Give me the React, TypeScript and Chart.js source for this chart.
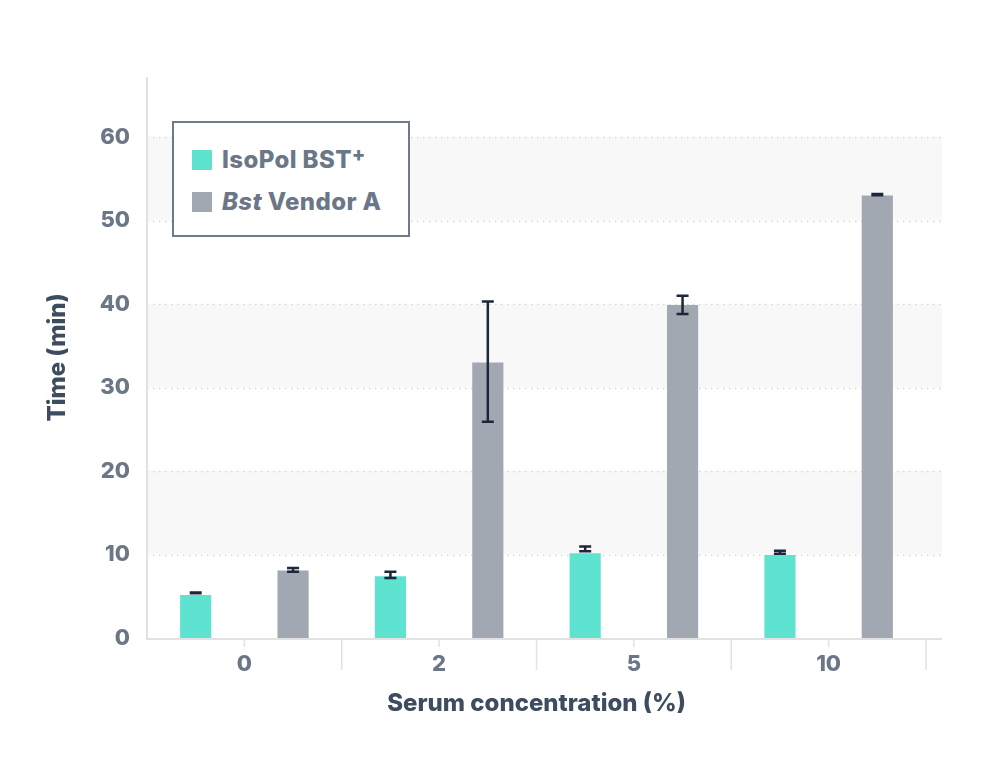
import { useEffect, useRef } from 'react';
import Chart from 'chart.js/auto';

const categories = ['0', '2', '5', '10'];
const isoPolValues = [5.15, 7.4, 10.15, 9.95];
const isoPolErrLow = [5.35, 7.2, 10.4, 10.1];
const isoPolErrHigh = [5.45, 7.95, 10.95, 10.45];
const vendorValues = [8.1, 33.0, 39.9, 53.0];
const vendorErrLow = [7.95, 25.9, 38.8, 53.05];
const vendorErrHigh = [8.4, 40.3, 41.0, 53.2];
const yTicks = [0, 10, 20, 30, 40, 50, 60];

const TEAL = '#5ee3d1';
const GREY = '#a1a8b1';
const TICK_COLOR = '#6b7787';
const TITLE_COLOR = '#3d4c5f';
const FONT = 'Inter, "Noto Sans", sans-serif';

const errorBars = [
  { low: isoPolErrLow, high: isoPolErrHigh },
  { low: vendorErrLow, high: vendorErrHigh },
];

// background bands, dotted grid, axis lines and x tick marks
const backdropPlugin = {
  id: 'backdrop',
  beforeDatasetsDraw(chart: Chart) {
    const { ctx, chartArea } = chart;
    const y = chart.scales.y;
    const x = chart.scales.x;
    const right = chartArea.right + 16;
    ctx.save();
    ctx.fillStyle = '#f8f8f8';
    for (let v = 10; v < 60; v += 20) {
      const top = y.getPixelForValue(v + 10);
      const bot = y.getPixelForValue(v);
      ctx.fillRect(chartArea.left, top, right - chartArea.left, bot - top);
    }
    ctx.strokeStyle = '#d6d6d6';
    ctx.lineWidth = 1.5;
    ctx.setLineDash([1.5, 4.5]);
    yTicks.slice(1).forEach((v) => {
      const py = Math.round(y.getPixelForValue(v)) + 0.5;
      ctx.beginPath();
      ctx.moveTo(chartArea.left, py);
      ctx.lineTo(right, py);
      ctx.stroke();
    });
    ctx.setLineDash([]);
    ctx.strokeStyle = '#e2e2e2';
    ctx.lineWidth = 2;
    ctx.beginPath();
    ctx.moveTo(chartArea.left, chartArea.top);
    ctx.lineTo(chartArea.left, chartArea.bottom + 1);
    ctx.lineTo(right, chartArea.bottom + 1);
    ctx.stroke();
    const step = (chartArea.right - chartArea.left) / categories.length;
    ctx.lineWidth = 1.5;
    categories.forEach((_, i) => {
      const cx = x.getPixelForValue(i);
      ctx.beginPath();
      ctx.moveTo(cx, chartArea.bottom + 1);
      ctx.lineTo(cx, chartArea.bottom + 9);
      ctx.stroke();
      const bx = chartArea.left + step * (i + 1);
      ctx.beginPath();
      ctx.moveTo(bx, chartArea.bottom + 1);
      ctx.lineTo(bx, chartArea.bottom + 32);
      ctx.stroke();
    });
    ctx.restore();
  },
  afterDatasetsDraw(chart: Chart) {
    const { ctx } = chart;
    const y = chart.scales.y;
    ctx.save();
    ctx.strokeStyle = '#1c2739';
    ctx.lineWidth = 2.5;
    errorBars.forEach((eb, d) => {
      const meta = chart.getDatasetMeta(d);
      meta.data.forEach((bar, i) => {
        const bx = bar.x;
        const yl = y.getPixelForValue(eb.low[i]);
        const yh = y.getPixelForValue(eb.high[i]);
        ctx.beginPath();
        ctx.moveTo(bx, yl);
        ctx.lineTo(bx, yh);
        ctx.moveTo(bx - 6, yl);
        ctx.lineTo(bx + 6, yl);
        ctx.moveTo(bx - 6, yh);
        ctx.lineTo(bx + 6, yh);
        ctx.stroke();
      });
    });
    ctx.restore();
  },
};

const legendItem = (color: string): React.CSSProperties => ({
  display: 'inline-block',
  width: 20,
  height: 20,
  background: color,
  marginRight: 10,
  verticalAlign: 'middle',
});

export default function App() {
  const canvasRef = useRef<HTMLCanvasElement | null>(null);
  const chartRef = useRef<Chart | null>(null);

  useEffect(() => {
    document.body.style.margin = '0';
    if (!canvasRef.current) return;
    if (chartRef.current) chartRef.current.destroy();

    chartRef.current = new Chart(canvasRef.current, {
      type: 'bar',
      data: {
        labels: categories,
        datasets: [
          {
            label: 'IsoPol BST+',
            data: isoPolValues,
            backgroundColor: TEAL,
            categoryPercentage: 1.0,
            barPercentage: 0.32,
          },
          {
            label: 'Bst Vendor A',
            data: vendorValues,
            backgroundColor: GREY,
            categoryPercentage: 1.0,
            barPercentage: 0.32,
          },
        ],
      },
      options: {
        responsive: false,
        animation: false,
        layout: { padding: { top: 77, right: 74, left: 0, bottom: 0 } },
        plugins: {
          legend: { display: false },
          tooltip: { enabled: false },
        },
        scales: {
          x: {
            grid: { display: false, drawTicks: false },
            border: { display: false },
            ticks: {
              color: TICK_COLOR,
              font: { family: FONT, size: 22, weight: 800 },
              padding: 13,
            },
            title: {
              display: true,
              text: 'Serum concentration (%)',
              color: TITLE_COLOR,
              font: { family: FONT, size: 24, weight: 800 },
              padding: { top: 0, bottom: 57 },
            },
            afterFit: (scale: any) => {
              scale.height = 137;
            },
          },
          y: {
            min: 0,
            max: 67.2,
            grid: { display: false, drawTicks: false },
            border: { display: false },
            ticks: {
              stepSize: 10,
              includeBounds: false,
              color: TICK_COLOR,
              font: { family: FONT, size: 22, weight: 800 },
              padding: 17,
            },
            afterBuildTicks: (scale: any) => {
              scale.ticks = yTicks.map((v) => ({ value: v }));
            },
            title: {
              display: true,
              text: 'Time (min)',
              color: TITLE_COLOR,
              font: { family: FONT, size: 24, weight: 800 },
              padding: { top: 43, bottom: 0 },
            },
            afterFit: (scale: any) => {
              scale.width = 147;
            },
          },
        },
      },
      plugins: [backdropPlugin],
    });

    return () => {
      if (chartRef.current) {
        chartRef.current.destroy();
        chartRef.current = null;
      }
    };
  }, []);

  return (
    <div style={{ position: 'relative', width: 1000, height: 775, background: '#fff' }}>
      <canvas ref={canvasRef} width={1000} height={775} style={{ display: 'block' }}></canvas>
      <div
        style={{
          position: 'absolute',
          left: 172,
          top: 121,
          width: 238,
          height: 116,
          boxSizing: 'border-box',
          border: '2px solid #6e7a88',
          background: '#fff',
          fontFamily: FONT,
          fontWeight: 800,
          fontSize: 24,
          letterSpacing: 0.4,
          color: TICK_COLOR,
          paddingLeft: 18,
          paddingTop: 24,
        }}
      >
        <div style={{ height: 42, lineHeight: '24px', whiteSpace: 'nowrap' }}>
          <span style={legendItem(TEAL)}></span>
          <span style={{ verticalAlign: 'middle' }}>
            IsoPol BST<sup style={{ fontSize: 20, verticalAlign: 'top', position: 'relative', top: -6 }}>+</sup>
          </span>
        </div>
        <div style={{ height: 42, lineHeight: '24px', whiteSpace: 'nowrap' }}>
          <span style={legendItem(GREY)}></span>
          <span style={{ verticalAlign: 'middle' }}>
            <i>Bst</i> Vendor A
          </span>
        </div>
      </div>
    </div>
  );
}
